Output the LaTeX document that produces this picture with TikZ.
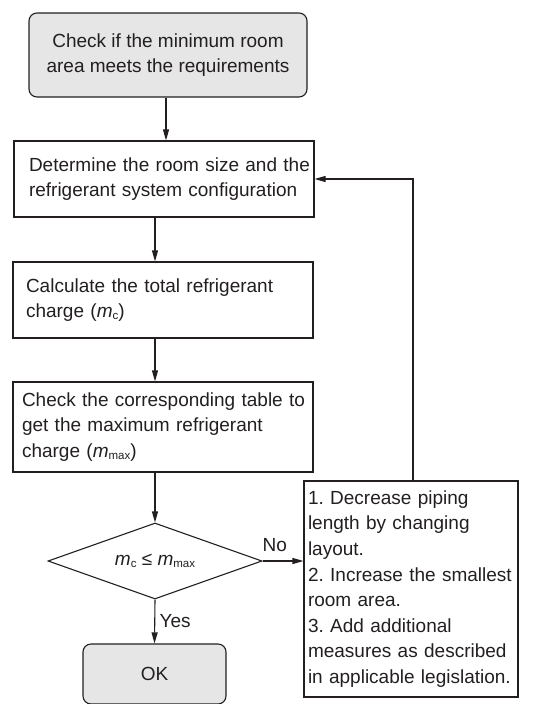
\documentclass[tikz,border=0pt]{standalone}
\usepackage{fontspec}
\setmainfont{Liberation Sans}
\usetikzlibrary{arrows.meta,shapes.geometric}
\definecolor{ink}{HTML}{231F20}
\definecolor{boxgray}{HTML}{E6E6E6}
\newcommand{\subsm}[1]{\raisebox{-1.5pt}{\fontsize{11.5}{11.5}\selectfont #1}}
\newcommand{\tline}[1]{\mbox{#1}}
\begin{document}
\frenchspacing
\hbadness=10000 \hfuzz=100pt
\begin{tikzpicture}[x=1pt,y=-1pt,
  every node/.style={font=\fontsize{19}{25.6}\selectfont, text=ink},
  box/.style={draw=ink, line width=1.1pt, rectangle, minimum width=300pt, align=left, inner ysep=0pt, anchor=center},
  rbox/.style={box, rounded corners=8pt, fill=boxgray},
  arr/.style={draw=ink, line width=1.1pt, -{Triangle[length=11pt,width=6pt]}},
  lbl/.style={font=\fontsize{19}{22}\selectfont}
]
\useasboundingbox (0,0) rectangle (554,704);

\node[rbox, minimum width=278pt, minimum height=84pt, align=center] (start) at (168,55)
  {Check if the minimum room\\area meets the requirements};

\node[box, minimum height=76pt, text width=270pt, inner xsep=15pt] (size) at (164,179)
  {\tline{Determine the room size and the}\\\tline{refrigerant system configuration}};

\node[box, minimum height=76pt, text width=274pt, inner xsep=13pt] (calc) at (163,300)
  {\tline{Calculate the total refrigerant}\\\tline{charge (\textit{m}\subsm{c})}};

\node[box, minimum height=90pt, text width=282pt, inner xsep=9pt] (table) at (163,427)
  {\tline{Check the corresponding table to}\\\tline{get the maximum refrigerant}\\\tline{charge (\textit{m}\subsm{max})}};

\node[draw=ink, line width=1.1pt, diamond, aspect=2.8, minimum width=214pt, minimum height=76pt, inner sep=0pt] (dec) at (155,561)
  {\textit{m}\subsm{c} ≤ \textit{m}\subsm{max}};

\node[box, minimum width=214pt, minimum height=216pt, text width=206pt, inner xsep=4pt] (fix) at (411,589)
  {\tline{1. Decrease piping}\\\tline{length by changing}\\\tline{layout.}\\\tline{2. Increase the smallest}\\\tline{room area.}\\\tline{3. Add additional}\\\tline{measures as described}\\\tline{in applicable legislation.}};

\node[rbox, minimum width=143pt, minimum height=60pt] (ok) at (154.5,674) {OK};

\coordinate (turn) at (413,179);

\draw[arr] (start.south -| 166,0) -- (size.north -| 166,0);
\draw[arr] (size.south -| 155,0) -- (calc.north -| 155,0);
\draw[arr] (calc.south -| 155,0) -- (table.north -| 155,0);
\draw[arr] (table.south -| 155,0) -- (dec.north);
\draw[arr] (dec.south) -- node[lbl, right=1pt, pos=0.5] {Yes} (ok.north);
\draw[arr] (dec.east) -- node[lbl, above=5pt, pos=0.3] {No} (fix.west |- dec.east);
\draw[arr] (fix.north -| turn) -- (turn) -- (size.east |- turn);
\end{tikzpicture}
\end{document}
